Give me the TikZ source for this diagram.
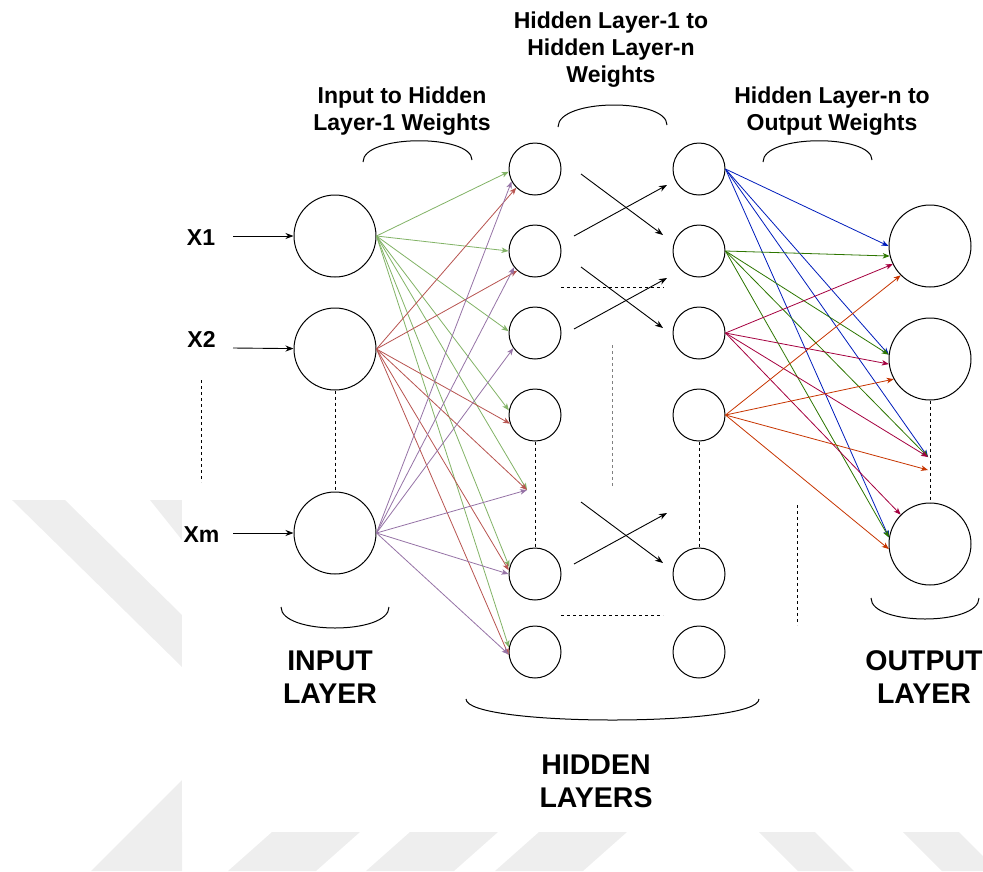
\documentclass[tikz,border=0pt]{standalone}
\usepackage{fontspec}
\setmainfont{Liberation Sans}
\usetikzlibrary{arrows.meta, positioning, calc}
\definecolor{wgreen}{HTML}{82B366}
\definecolor{wred}{HTML}{B85450}
\definecolor{wpurple}{HTML}{9673A6}
\definecolor{wblue}{HTML}{001DBC}
\definecolor{wdkgreen}{HTML}{2D7600}
\definecolor{wcrimson}{HTML}{A50040}
\definecolor{worange}{HTML}{C73500}
\definecolor{wmark}{HTML}{EEEEEE}

\begin{document}
\begin{tikzpicture}[x=1pt, y=-1pt,
            neuron/.style={circle, draw, line width=1pt, minimum size=52pt, inner sep=0pt},
            bigneuron/.style={neuron, minimum size=82pt},
            lbl/.style={font=\fontsize{23}{27}\selectfont\bfseries, align=center, inner sep=0pt},
            layerlbl/.style={font=\fontsize{28.5}{33}\selectfont\bfseries, align=center, inner sep=0pt},
            arrow/.style={-{Stealth[length=8pt, width=6pt, inset=2.5pt]}, line width=0.9pt},
            wt/.style={-{Stealth[length=7pt, width=5.5pt, inset=2pt]}, line width=0.8pt},
            dots/.style={dash pattern=on 3pt off 3pt, line width=0.9pt},
            brace/.style={line width=1pt}
        ]
            \useasboundingbox (0,0) rectangle (983,871);

            % faint stripes behind the page
            \fill[wmark] (12,500) -- (65,500) -- (182,615) -- (182,667) -- cycle;
            \fill[wmark] (150,500) -- (182,500) -- (182,540) -- cycle;
            \fill[wmark] (91,871) -- (182,871) -- (182,780) -- cycle;
            \foreach \x in {228,366,495}
                \fill[wmark] (\x,871) -- (\x+88,871) -- (\x+132,832) -- (\x+44,832) -- cycle;
            \foreach \x in {759,903}
                \fill[wmark] (\x,832) -- (\x+56,832) -- (\x+95,871) -- (\x+39,871) -- cycle;
            \fill[white] (182,0) rectangle (983,832);

            % input layer
            \node[bigneuron] (i1) at (335,236) {};
            \node[bigneuron] (i2) at (335,349) {};
            \node[bigneuron] (i3) at (335,533) {};
            \node[lbl] (x1) at (201,237.5) {X1};
            \node[lbl] (x2) at (201.5,339.5) {X2};
            \node[lbl] (x3) at (201.5,534.5) {Xm};
            \coordinate (s1) at (233,236);
            \coordinate (s2) at (233,348);
            \coordinate (s3) at (233,533);
            \foreach \n in {1,2,3}
                \draw[arrow] (s\n) -- (i\n);
            \draw[dots] (201,380) -- (201,482);
            \draw[dots] (i2) -- (i3);

            % hidden layers
            \foreach \n/\y in {1/169, 2/251, 3/333, 4/415, 5/574, 6/652} {
                \node[neuron] (h\n) at (535,\y) {};
                \node[neuron] (n\n) at (699,\y) {};
            }
            \draw[dots] (h4) -- (h5);
            \draw[dots] (n4) -- (n5);
            \draw[dots] (561,287) -- (664,287);
            \draw[dots] (561,615) -- (663,615);
            \draw[dots, gray] (612,345) -- (612,487);
            \draw[dots] (797,505) -- (797,625);
            \foreach \y in {174, 267, 502} {
                \draw[arrow] (581,\y) -- (663,\y+61);
                \draw[arrow] (574,\y+62) -- (667,\y+11);
            }

            % output layer
            \node[bigneuron] (o1) at (930,246) {};
            \node[bigneuron] (o2) at (930,359) {};
            \node[bigneuron] (o3) at (930,544) {};
            \draw[dots] (o2) -- (o3);

            % weights
            \coordinate (hm) at (527,490);
            \coordinate (om) at (928,457);
            \coordinate (omlow) at (928,470);
            \foreach \t in {h1.186,h2.180,h3.176,h4.170,hm,h5.165,h6.170}
                \draw[wt, wgreen] (i1.east) -- (\t);
            \foreach \t in {h1.225,h2.228,h4.199,hm,h5.172,h6.187}
                \draw[wt, wred] (i2.east) -- (\t);
            \foreach \t in {h1.208,h2.218,h3.215,hm,h5.180,h6.185}
                \draw[wt, wpurple] (i3.east) -- (\t);
            \foreach \t in {o1.180,o2.174,om,o3.171}
                \draw[wt, wblue] (n1.east) -- (\t);
            \foreach \t in {o1.194,o2.174,om,o3.171}
                \draw[wt, wdkgreen] (n2.east) -- (\t);
            \foreach \t in {o1.206,o2.187,om,o3.135}
                \draw[wt, wcrimson] (n3.east) -- (\t);
            \foreach \t in {o1.225,o2.209,omlow,o3.187}
                \draw[wt, worange] (n4.east) -- (\t);

            % braces and captions
            \draw[brace] (363,162) .. controls (363,134) and (472,134) .. (472,160);
            \draw[brace] (558,127) .. controls (558,98) and (667,98) .. (667,125);
            \draw[brace] (763,162) .. controls (763,134) and (872,134) .. (872,160);
            \draw[brace] (281,607) .. controls (281,635) and (389,635) .. (389,607);
            \draw[brace] (466,699) .. controls (466,727) and (759,727) .. (759,699);
            \draw[brace] (871,598) .. controls (871,626) and (979,626) .. (979,598);

            \node[lbl] (w1) at (402,111) {Input to Hidden\\Layer-1 Weights};
            \node[lbl] (w2) at (611,49.5) {Hidden Layer-1 to\\Hidden Layer-n\\Weights};
            \node[lbl] (w3) at (832,111) {Hidden Layer-n to\\Output Weights};
            \node[layerlbl] (inl) at (330,677) {INPUT\\LAYER};
            \node[layerlbl] (hidl) at (596,781) {HIDDEN\\LAYERS};
            \node[layerlbl] (outl) at (924,677) {OUTPUT\\LAYER};
        \end{tikzpicture}
\end{document}
